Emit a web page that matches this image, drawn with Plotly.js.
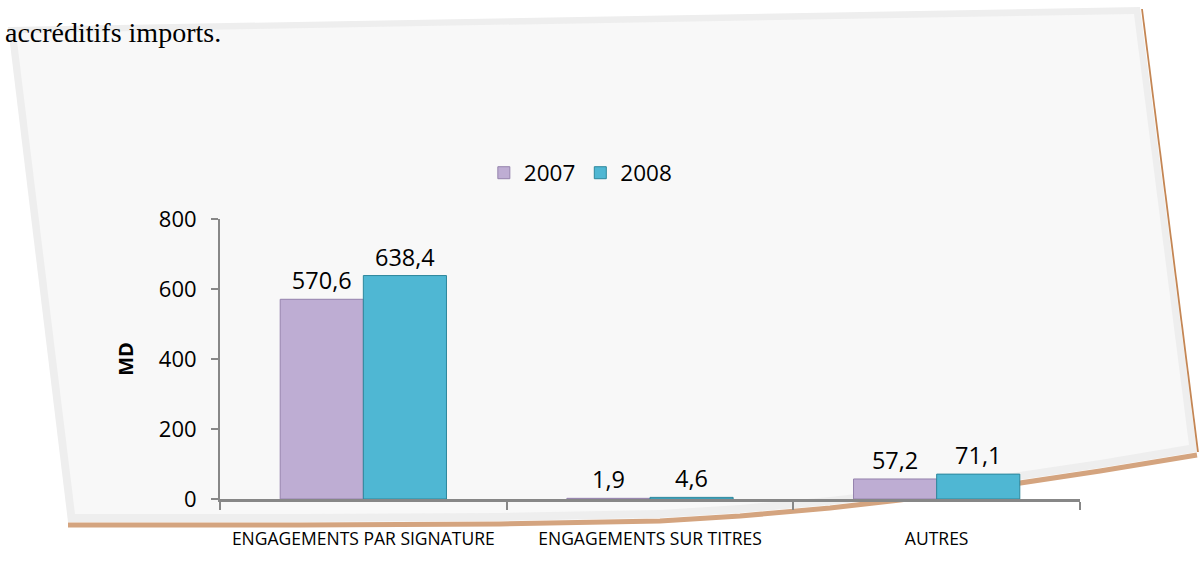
<!DOCTYPE html>
<html>
<head>
<meta charset="utf-8">
<script src="https://cdn.plot.ly/plotly-3.0.1.min.js"></script>
<style>html,body{margin:0;padding:0;background:#fff;}#chart{width:1199px;height:563px;}</style>
</head>
<body>
<div id="chart"></div>
<script>
// ---- data ----
const categories = ["ENGAGEMENTS PAR SIGNATURE", "ENGAGEMENTS SUR TITRES", "AUTRES"];
const values2007 = [570.6, 1.9, 57.2];
const values2008 = [638.4, 4.6, 71.1];
const seriesNames = ["2007", "2008"];
const yTicks = [0, 200, 400, 600, 800];

// ---- geometry helpers (decoration only) ----
const L = 220, R = 119, T = 219, B = 64, W = 1199, H = 563;
const pw = W - L - R, ph = H - T - B;
function P(px, py) { return ((px - L) / pw).toFixed(5) + "," + ((H - B - py) / ph).toFixed(5); }
function path(pts, close) {
  let s = "M" + P(pts[0][0], pts[0][1]);
  for (let i = 1; i < pts.length; i++) s += " L" + P(pts[i][0], pts[i][1]);
  return s + (close ? " Z" : "");
}
const bottomEdge = [[1197,452],[1100,468],[1000,483],[900,497],[830,505],[740,513],[660,518],[500,521],[300,522],[68,522]];
const outerPage = [[8,27],[1140,7],[1197,452]].concat(bottomEdge);
const innerPage = [[16,33],[1134,14],[1189,445]].concat(bottomEdge.slice(1, -1).map(p => [p[0], p[1] - 8])).concat([[75,514]]);
const brownLine = bottomEdge.map(p => [p[0], p[1] + 3]);

const fmt = v => v.toFixed(1).replace(".", ",");
const FONT = "'Open Sans', Lato, sans-serif";

const traces = [
  {
    type: "bar", name: seriesNames[0], x: categories, y: values2007,
    text: values2007.map(fmt), textposition: "outside", cliponaxis: false,
    textfont: {family: FONT, size: 23.5, color: "#000"},
    marker: {color: "#BEADD3", line: {color: "#9583AD", width: 1}},
    hoverinfo: "skip"
  },
  {
    type: "bar", name: seriesNames[1], x: categories, y: values2008,
    text: values2008.map(fmt), textposition: "outside", cliponaxis: false,
    textfont: {family: FONT, size: 23.5, color: "#000"},
    marker: {color: "#4FB7D3", line: {color: "#2D879C", width: 1}},
    hoverinfo: "skip"
  }
];

const layout = {
  width: W, height: H,
  margin: {l: L, r: R, t: T, b: B, pad: 0},
  paper_bgcolor: "#ffffff",
  plot_bgcolor: "rgba(0,0,0,0)",
  font: {family: FONT, color: "#000"},
  barmode: "group", bargap: 0.42, bargroupgap: 0,
  showlegend: true,
  legend: {orientation: "h", x: 0.419, xanchor: "center", y: 1.164, yanchor: "middle",
           font: {size: 22.5, color: "#000"}, bgcolor: "rgba(0,0,0,0)", itemwidth: 30},
  xaxis: {
    type: "category", showgrid: false, zeroline: false,
    showline: true, linecolor: "#878787", linewidth: 2.5,
    ticks: "outside", tickson: "boundaries", ticklen: 8, tickcolor: "#878787", tickwidth: 2,
    ticklabelstandoff: 22,
    tickfont: {size: 17.5, color: "#000"}, automargin: false
  },
  yaxis: {
    range: [0, 800], tickvals: yTicks, showgrid: false, zeroline: false,
    showline: true, linecolor: "#878787", linewidth: 2,
    ticks: "outside", ticklen: 7, tickcolor: "#878787", tickwidth: 2,
    ticklabelstandoff: 10,
    tickfont: {size: 22, color: "#000"}, automargin: false,
    title: {text: "<b>MD</b>", font: {size: 20, color: "#000"}, standoff: 20}
  },
  shapes: [
    {type: "path", xref: "paper", yref: "paper", layer: "below", path: path(outerPage, true),
     fillcolor: "#eeeeee", line: {width: 0}},
    {type: "path", xref: "paper", yref: "paper", layer: "below", path: path(innerPage, true),
     fillcolor: "#f8f8f8", line: {width: 0}},
    {type: "path", xref: "paper", yref: "paper", layer: "below", path: path(brownLine, false),
     fillcolor: "rgba(0,0,0,0)", line: {color: "#D4A47F", width: 5}},
    {type: "path", xref: "paper", yref: "paper", layer: "below", path: path([[1142,9],[1198,452]], false),
     fillcolor: "rgba(0,0,0,0)", line: {color: "#C48654", width: 1.8}}
  ],
  annotations: [
    {xref: "paper", yref: "paper", x: (3 - L) / pw, y: (H - B - 33) / ph, xanchor: "left", yanchor: "middle",
     showarrow: false, text: "accréditifs imports.",
     font: {family: "'Liberation Serif', 'DejaVu Serif', serif", size: 28, color: "#000"}}
  ]
};

Plotly.newPlot("chart", traces, layout, {staticPlot: true, displayModeBar: false});
</script>
</body>
</html>
